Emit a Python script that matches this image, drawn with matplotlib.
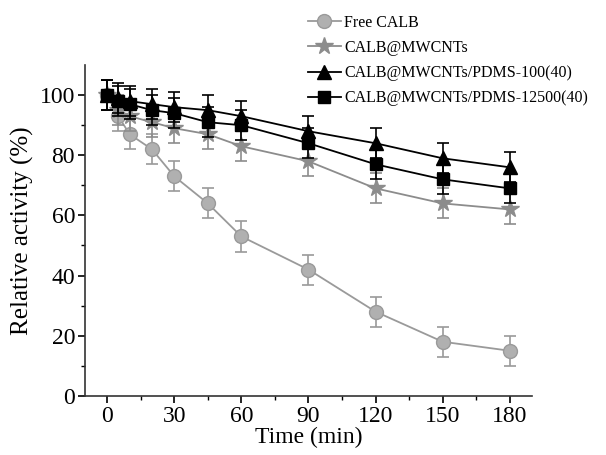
import numpy as np
import matplotlib.pyplot as plt

TIME = [0, 5, 10, 20, 30, 45, 60, 90, 120, 150, 180]
FREE = [100, 93, 87, 82, 73, 64, 53, 42, 28, 18, 15]
MWCNT = [100, 95, 93, 91, 89, 87, 83, 78, 69, 64, 62]
PDMS100 = [100, 99, 98, 97, 96, 95, 93, 88, 84, 79, 76]
PDMS12500 = [100, 98, 97, 95, 94, 91, 90, 84, 77, 72, 69]
ERR = 5
LABELS = [
    "Free CALB",
    "CALB@MWCNTs",
    "CALB@MWCNTs/PDMS-100(40)",
    "CALB@MWCNTs/PDMS-12500(40)",
]


def main():
    plt.rcParams["font.family"] = ["Liberation Serif", "DejaVu Serif"]
    fig = plt.figure(figsize=(6.06, 4.55), dpi=100)
    ax = fig.add_axes([0.140, 0.130, 0.738, 0.727])

    styles = [
        (FREE, "o", "#9a9a9a", "#b0b0b0", 10),
        (MWCNT, "*", "#8c8c8c", "#8c8c8c", 13),
        (PDMS100, "^", "#000000", "#000000", 10),
        (PDMS12500, "s", "#000000", "#000000", 8),
    ]
    handles = []
    for ids, (vals, marker, color, face, ms) in enumerate(styles):
        h = ax.errorbar(
            TIME,
            vals,
            yerr=ERR,
            marker=marker,
            color=color,
            markerfacecolor=face,
            markeredgecolor=color,
            markersize=ms,
            linewidth=1.3,
            elinewidth=1.2,
            capsize=4,
            capthick=1.2,
            zorder=2 + ids,
            label=LABELS[ids],
        )
        handles.append(h)

    ax.set_xlim(-10, 190)
    ax.set_ylim(0, 110)
    ax.set_xticks([0, 30, 60, 90, 120, 150, 180])
    ax.set_xticks(np.arange(15, 180, 30), minor=True)
    ax.set_yticks([0, 20, 40, 60, 80, 100])
    ax.set_yticks([10, 30, 50, 70, 90], minor=True)
    for side in ["top", "right"]:
        ax.spines[side].set_visible(False)
    for side in ["left", "bottom"]:
        ax.spines[side].set_linewidth(1.2)
        ax.spines[side].set_color("#333333")
    ax.tick_params(which="major", direction="out", length=5, width=1.2, labelsize=17, pad=2)
    ax.tick_params(which="minor", direction="out", length=3, width=1.0)
    ax.set_xlabel("Time (min)", fontsize=17, labelpad=0)
    ax.set_ylabel("Relative activity (%)", fontsize=18, labelpad=4)

    fig.legend(
        handles=[h[0] for h in handles],
        labels=LABELS,
        loc="upper left",
        bbox_to_anchor=(0.497, 0.982),
        frameon=False,
        fontsize=11.5,
        handlelength=2.1,
        handletextpad=0.2,
        labelspacing=0.58,
        borderaxespad=0,
    )

    fig.savefig("out.png", dpi=100)


if __name__ == "__main__":
    main()
